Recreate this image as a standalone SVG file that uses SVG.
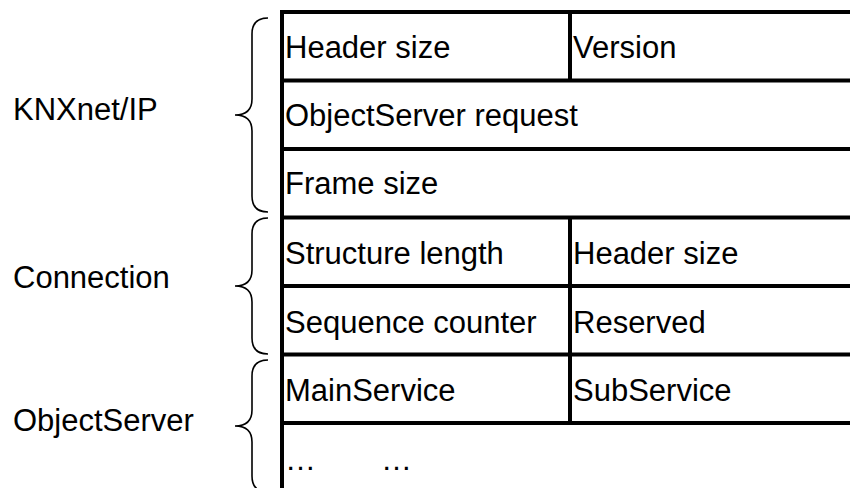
<svg xmlns="http://www.w3.org/2000/svg" width="850" height="488" viewBox="0 0 850 488">
<style>
.t{font-family:"Liberation Sans",Arial,sans-serif;font-size:31px;fill:#000}
.ln{stroke:#000;stroke-width:4;fill:none}
.br{stroke:#000;stroke-width:1.6;fill:none}
</style>
<rect x="0" y="0" width="850" height="488" fill="#fff"/>
<g id="table">
<line class="ln" x1="282" y1="10" x2="282" y2="488"/>
<line class="ln" x1="280" y1="12" x2="850" y2="12"/>
<line class="ln" x1="280" y1="80.5" x2="850" y2="80.5"/>
<line class="ln" x1="280" y1="149" x2="850" y2="149"/>
<line class="ln" x1="280" y1="217.5" x2="850" y2="217.5"/>
<line class="ln" x1="280" y1="286" x2="850" y2="286"/>
<line class="ln" x1="280" y1="354.5" x2="850" y2="354.5"/>
<line class="ln" x1="280" y1="423" x2="850" y2="423"/>
<line class="ln" x1="570" y1="12" x2="570" y2="80.5"/>
<line class="ln" x1="570" y1="217.5" x2="570" y2="423"/>
</g>
<g id="cells">
<text class="t" x="285" y="58">Header size</text>
<text class="t" x="573" y="58">Version</text>
<text class="t" x="285" y="126">ObjectServer request</text>
<text class="t" x="285" y="194">Frame size</text>
<text class="t" x="285" y="264">Structure length</text>
<text class="t" x="573" y="264">Header size</text>
<text class="t" x="285" y="333">Sequence counter</text>
<text class="t" x="573" y="333">Reserved</text>
<text class="t" x="285" y="401">MainService</text>
<text class="t" x="573" y="401">SubService</text>
<text class="t" x="285" y="470">…<tspan x="381">…</tspan></text>
</g>
<g id="group-knxnetip">
<path class="br" d="M268,18 Q252,18 252,34 L252,99 Q252,115 235,115 Q252,115 252,131 L252,196 Q252,212 268,212"/>
<text class="t" x="13" y="120">KNXnet/IP</text>
</g>
<g id="group-connection">
<path class="br" d="M268,218 Q252,218 252,234 L252,270 Q252,286 235,286 Q252,286 252,302 L252,338 Q252,354 268,354"/>
<text class="t" x="13" y="288">Connection</text>
</g>
<g id="group-objectserver">
<path class="br" d="M268,360 Q252,360 252,376 L252,410 Q252,426 235,426 Q252,426 252,442 L252,476 Q252,492 268,492"/>
<text class="t" x="13" y="431">ObjectServer</text>
</g>
</svg>
